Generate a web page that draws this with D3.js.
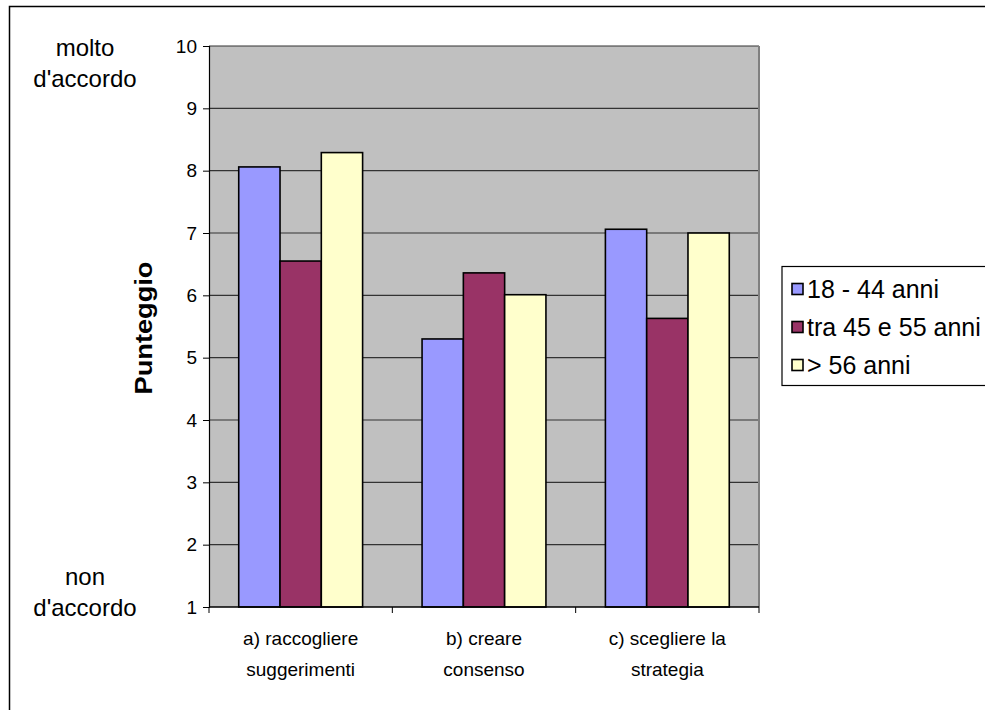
<!DOCTYPE html>
<html><head><meta charset="utf-8">
<script src="https://cdn.jsdelivr.net/npm/d3@7"></script>
<style>body{margin:0;background:#fff}text{font-family:"Liberation Sans",Arial,sans-serif;fill:#000}</style>
</head><body>
<svg id="c" width="985" height="710"></svg>
<script>
const categories = [["a) raccogliere","suggerimenti"],["b) creare","consenso"],["c) scegliere la","strategia"]];
const seriesNames = ["18 - 44 anni","tra 45 e 55 anni","> 56 anni"];
const values1844 = [8.06, 5.30, 7.06];
const values4555 = [6.55, 6.36, 5.63];
const values56 = [8.29, 6.01, 7.00];
const yTicks = [1,2,3,4,5,6,7,8,9,10];
const colors = ["#9999ff","#993366","#ffffcc"];
const series = [values1844, values4555, values56];

const svg = d3.select("#c");
const L=209, R=759, T=46, B=607;
const fs = 19;

svg.append("rect").attr("x",9.5).attr("y",6.5).attr("width",1000).attr("height",1000)
  .attr("fill","none").attr("stroke","#000").attr("stroke-width",1.5);

const x0 = d3.scaleBand().domain(d3.range(categories.length)).range([L,R]).paddingInner(0).paddingOuter(0);
const x1 = d3.scaleBand().domain(d3.range(series.length)).range([0,x0.bandwidth()]).paddingOuter(0.72).paddingInner(0);
const y = d3.scaleLinear().domain([1,10]).range([B,T]);

svg.append("rect").attr("x",L).attr("y",T).attr("width",R-L).attr("height",B-T).attr("fill","#c0c0c0");
svg.append("g").selectAll("line").data(yTicks.slice(1)).join("line")
  .attr("x1",L).attr("x2",R).attr("y1",d=>y(d)).attr("y2",d=>y(d)).attr("stroke","#333").attr("stroke-width",1.1);
svg.append("line").attr("x1",R).attr("x2",R).attr("y1",T).attr("y2",B).attr("stroke","#808080").attr("stroke-width",2);

const g = svg.append("g");
categories.forEach((c,ci)=>{
  series.forEach((s,si)=>{
    g.append("rect").attr("x",x0(ci)+x1(si)).attr("width",x1.bandwidth())
      .attr("y",y(s[ci])).attr("height",y(1)-y(s[ci]))
      .attr("fill",colors[si]).attr("stroke","#000").attr("stroke-width",1.6);
  });
});

// y axis
const ya = svg.append("g").attr("transform",`translate(${L},0)`)
  .call(d3.axisLeft(y).tickValues(yTicks).tickSize(6).tickPadding(6).tickFormat(d3.format("d")));
ya.select(".domain").attr("stroke","#000").attr("stroke-width",1.2);
ya.selectAll(".tick line").attr("stroke","#000");
ya.selectAll("text").style("font-size",fs+"px").attr("font-family",null);

// x axis
const xa = svg.append("g").attr("transform",`translate(0,${B})`);
xa.append("line").attr("x1",L).attr("x2",R).attr("stroke","#000").attr("stroke-width",1.6);
const bounds = d3.range(categories.length+1).map(i=> i<categories.length ? x0(i) : R);
xa.selectAll(".tk").data(bounds).join("line").attr("x1",d=>d).attr("x2",d=>d).attr("y1",0).attr("y2",6).attr("stroke","#000");
categories.forEach((c,ci)=>{
  const t = xa.append("text").attr("x",x0(ci)+x0.bandwidth()/2).attr("text-anchor","middle").style("font-size",fs+"px");
  c.forEach((line,li)=> t.append("tspan").attr("x",x0(ci)+x0.bandwidth()/2).attr("y",38+li*31).text(line));
});

// side labels
[["molto","d'accordo",56],["non","d'accordo",585]].forEach(([a,b,yy])=>{
  const t = svg.append("text").attr("text-anchor","middle").style("font-size","24px");
  t.append("tspan").attr("x",85).attr("y",yy).text(a);
  t.append("tspan").attr("x",85).attr("y",yy+31).text(b);
});

svg.append("text").attr("transform","translate(152,328) rotate(-90)").attr("text-anchor","middle")
  .attr("textLength",133).attr("lengthAdjust","spacingAndGlyphs")
  .style("font-size","23px").style("font-weight","bold").text("Punteggio");

// legend
const lg = svg.append("g");
lg.append("rect").attr("x",782).attr("y",266.5).attr("width",220).attr("height",119).attr("fill","#fff").attr("stroke","#000").attr("stroke-width",1.2);
seriesNames.forEach((n,i)=>{
  const yy = 289 + i*38;
  lg.append("rect").attr("x",792).attr("y",yy-5.5).attr("width",11).attr("height",11).attr("fill",colors[i]).attr("stroke","#000").attr("stroke-width",1.6);
  lg.append("text").attr("x",807).attr("y",yy+9).style("font-size","25px").text(n);
});
</script>
</body></html>
